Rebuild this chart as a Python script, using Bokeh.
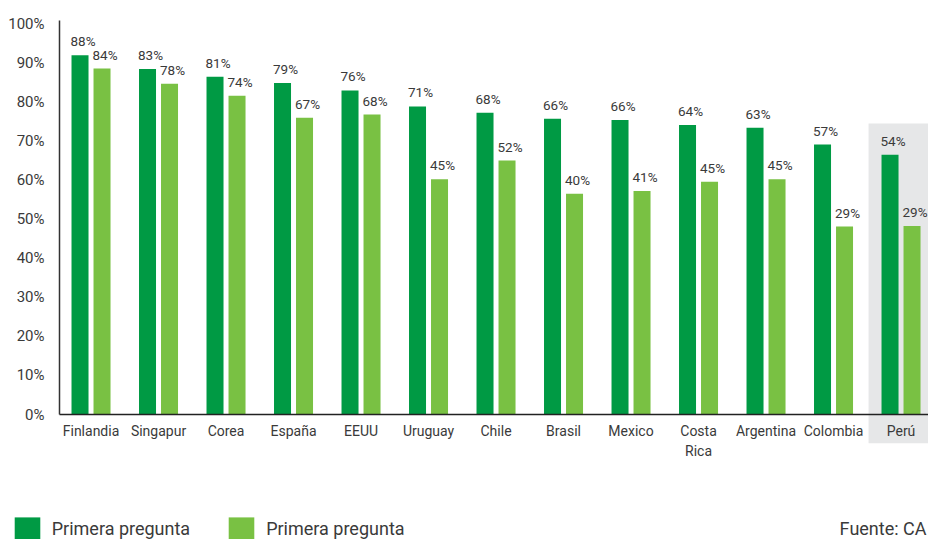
from bokeh.plotting import figure
from bokeh.models import (Range1d, FixedTicker, PrintfTickFormatter, Legend,
                          LegendItem, ColumnDataSource, LinearAxis)
from bokeh.transform import dodge
from bokeh.core.properties import value
from bokeh.embed import file_html
from bokeh.resources import INLINE

# ---------------- data ----------------
categories = ["Finlandia", "Singapur", "Corea", "España", "EEUU", "Uruguay", "Chile",
              "Brasil", "Mexico", "Costa\nRica", "Argentina", "Colombia", "Perú"]
# bar heights as drawn (percent)
bar_primera = [92.1, 88.6, 86.6, 85.0, 83.1, 79.0, 77.4, 75.8, 75.5, 74.2, 73.5, 69.2, 66.6]
bar_segunda = [88.7, 84.8, 81.7, 76.1, 76.9, 60.3, 65.1, 56.6, 57.3, 59.7, 60.3, 48.2, 48.3]
# value labels as printed
label_primera = [88, 83, 81, 79, 76, 71, 68, 66, 66, 64, 63, 57, 54]
label_segunda = [84, 78, 74, 67, 68, 45, 52, 40, 41, 45, 45, 29, 29]
y_ticks = [0, 10, 20, 30, 40, 50, 60, 70, 80, 90, 100]
series_names = ["Primera pregunta", "Primera pregunta"]
highlight = "Perú"
source_note = "Fuente: CA"

# ---------------- style ----------------
DARK = "#009a44"
LIGHT = "#79c143"
GREY_BG = "#e6e7e8"
TEXT = "#3a3a3a"
FONT = "Roboto"
BAR_W = 0.252
OFFSET = 0.163

AXIS_X = -0.467                  # where the value axis stands
X_START, X_END = -1.341, 12.407
Y_START, Y_END = -32.05, 106.15

src = ColumnDataSource(dict(
    x=list(range(len(categories))),
    p1=bar_primera, p2=bar_segunda,
    l1=[f"{v}%" for v in label_primera],
    l2=[f"{v}%" for v in label_segunda],
    cat=categories,
))

p = figure(width=928, height=539,
           x_range=Range1d(X_START, X_END), y_range=Range1d(Y_START, Y_END),
           output_backend="svg", toolbar_location=None,
           x_axis_location=None, y_axis_location=None,
           min_border_left=0, min_border_right=0, min_border_top=0, min_border_bottom=0)
p.title.visible = False
p.outline_line_color = None
p.grid.grid_line_color = None

# highlight background behind Perú
hi = categories.index(highlight)
p.quad(left=[hi - 0.481], right=[X_END], top=[74.6], bottom=[-7.4],
       fill_color=GREY_BG, line_color=None)

r1 = p.vbar(x=dodge("x", -OFFSET, range=p.x_range), top="p1", width=BAR_W,
            source=src, fill_color=DARK, line_color=None)
r2 = p.vbar(x=dodge("x", OFFSET, range=p.x_range), top="p2", width=BAR_W,
            source=src, fill_color=LIGHT, line_color=None)

common = dict(text_font=value(FONT), text_color=TEXT)
p.text(x=dodge("x", -OFFSET - BAR_W / 2, range=p.x_range), y="p1", text="l1", source=src,
       text_align="left", text_baseline="bottom", x_offset=-1, y_offset=-6,
       text_font_size="13.5px", **common)
p.text(x=dodge("x", OFFSET - BAR_W / 2, range=p.x_range), y="p2", text="l2", source=src,
       text_align="left", text_baseline="bottom", x_offset=-1, y_offset=-6,
       text_font_size="13.5px", **common)

# category labels
p.text(x="x", y=0, text="cat", source=src, text_align="center", text_baseline="top",
       y_offset=8, text_line_height=1.25, text_font_size="14px", **common)

# x axis: baseline only, standing at 0 %
xax = LinearAxis(fixed_location=0, bounds=(AXIS_X, X_END), ticker=FixedTicker(ticks=[]),
                 axis_line_color="#222222", axis_line_width=1.5,
                 major_tick_line_color=None, minor_tick_line_color=None,
                 major_label_text_font_size="0px")
p.add_layout(xax, "below")

# y axis, standing at AXIS_X inside the full-width frame
yax = LinearAxis(fixed_location=AXIS_X, bounds=(0, 101), ticker=FixedTicker(ticks=y_ticks),
                 formatter=PrintfTickFormatter(format="%d%%"),
                 axis_line_color="#333333", axis_line_width=1.5,
                 major_tick_line_color=None, minor_tick_line_color=None,
                 major_label_text_font=FONT, major_label_text_font_size="15px",
                 major_label_text_color=TEXT, major_label_standoff=9)
p.add_layout(yax, "left")

# legend at the page's bottom-left
legend = Legend(items=[LegendItem(label=series_names[0], renderers=[r1]),
                       LegendItem(label=series_names[1], renderers=[r2])],
                location=(10.75, -4), orientation="horizontal",
                glyph_width=32, glyph_height=29, label_standoff=9, spacing=35,
                padding=0, margin=0, border_line_color=None, background_fill_alpha=0,
                label_text_font=FONT, label_text_font_size="18px", label_text_color=TEXT)
p.add_layout(legend)

# source note at the bottom-right
p.text(x=[X_END], y=[Y_START], text=[source_note], text_align="right",
       text_baseline="bottom", x_offset=-2, y_offset=-1,
       text_font=value(FONT), text_font_size="18px", text_color=TEXT)

open("out.html", "w").write(file_html(p, INLINE))
